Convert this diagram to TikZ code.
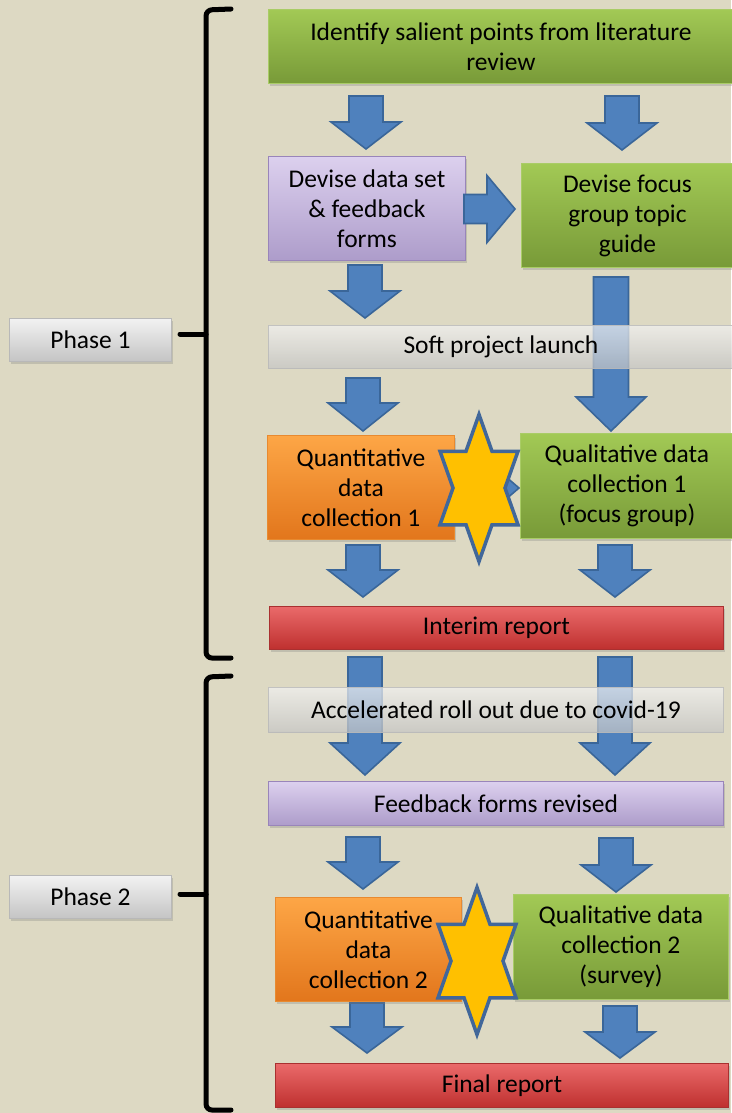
\documentclass[tikz,border=0pt]{standalone}
\usepackage{fontspec}
\setmainfont{Carlito}
\usetikzlibrary{calc,shadows}
\definecolor{bgc}{HTML}{DDD9C3}
\definecolor{grTop}{HTML}{A2C955}
\definecolor{grMid}{HTML}{8DB244}
\definecolor{grBot}{HTML}{789A38}
\definecolor{grLine}{HTML}{A9CC66}
\definecolor{puTop}{HTML}{DCD0EE}
\definecolor{puMid}{HTML}{BDADD8}
\definecolor{puBot}{HTML}{AD9CCA}
\definecolor{puLine}{HTML}{9985BA}
\definecolor{orTop}{HTML}{FDA646}
\definecolor{orMid}{HTML}{F7902E}
\definecolor{orBot}{HTML}{E2761C}
\definecolor{orLine}{HTML}{E88A30}
\definecolor{rdTop}{HTML}{EA6A6A}
\definecolor{rdMid}{HTML}{D64141}
\definecolor{rdBot}{HTML}{BF302F}
\definecolor{rdLine}{HTML}{A93030}
\definecolor{gyTop}{HTML}{F2F2F2}
\definecolor{gyMid}{HTML}{D6D6D6}
\definecolor{gyBot}{HTML}{C4C4C4}
\definecolor{gyLine}{HTML}{B8B8B8}
\definecolor{arFill}{HTML}{4F81BD}
\definecolor{arLine}{HTML}{3A6699}
\definecolor{starFill}{HTML}{FFC000}
\definecolor{starLine}{HTML}{41679A}
\newcommand\blockarrow[5]{% start, tip, shaft half, head half, head length
  \path ($(#2)!#5!(#1)$) coordinate (hb);
  \draw[barrow] ($(#1)!#3!90:(#2)$) -- ($(hb)!#3!90:(#2)$) -- ($(hb)!#4!90:(#2)$)
    -- (#2) -- ($(hb)!#4!-90:(#2)$) -- ($(hb)!#3!-90:(#2)$) -- ($(#1)!#3!-90:(#2)$) -- cycle;}
\newcommand\hexstar[1]{%
  \draw[starsty, shift={(#1)}] (0pt,73.5pt) -- (13pt,36.75pt) -- (39pt,36.75pt) -- (26pt,0pt)
    -- (39pt,-36.75pt) -- (13pt,-36.75pt) -- (0pt,-73.5pt) -- (-13pt,-36.75pt)
    -- (-39pt,-36.75pt) -- (-26pt,0pt) -- (-39pt,36.75pt) -- (-13pt,36.75pt) -- cycle;}
\tikzset{
  box/.style={rectangle, anchor=north west, inner sep=0pt, align=center,
    font=\fontsize{25.5}{30}\selectfont, text=black, line width=0.9pt},
  shad/.style={drop shadow={shadow xshift=2pt, shadow yshift=-3pt, opacity=0.3}},
  greenbox/.style={box, shad, top color=grTop, middle color=grMid, bottom color=grBot, draw=grLine},
  purplebox/.style={box, shad, top color=puTop, middle color=puMid, bottom color=puBot, draw=puLine},
  orangebox/.style={box, shad, top color=orTop, middle color=orMid, bottom color=orBot, draw=orLine},
  redbox/.style={box, shad, top color=rdTop, middle color=rdMid, bottom color=rdBot, draw=rdLine},
  graybox/.style={box, top color=gyTop, middle color=gyMid, bottom color=gyBot, draw=gyLine, fill opacity=0.72, draw opacity=0.8, text opacity=1},
  phasebox/.style={box, shad, top color=gyTop, middle color=gyMid, bottom color=gyBot, draw=gyLine},
  barrow/.style={fill=arFill, draw=arLine, line width=1.6pt, line join=miter},
  starsty/.style={fill=starFill, draw=starLine, line width=3.5pt, line join=miter},
  brace/.style={line width=5pt, line cap=round, rounded corners=6pt},
}
\begin{document}
\begin{tikzpicture}[x=1pt, y=-1pt]
\useasboundingbox (0,0) rectangle (731,1113);
\fill[bgc] (0,0) rectangle (731,1113);

% arrow end points
\coordinate (a1s) at (366,96);   \coordinate (a1e) at (366,149);
\coordinate (a2s) at (622,96);   \coordinate (a2e) at (622,150);
\coordinate (ahs) at (464,209);  \coordinate (ahe) at (515,209);
\coordinate (a3s) at (365,265);  \coordinate (a3e) at (365,318);
\coordinate (l1s) at (611,277);  \coordinate (l1e) at (611,431);
\coordinate (a4s) at (363,378);  \coordinate (a4e) at (363,431);
\coordinate (hxs) at (455,488);  \coordinate (hxe) at (519,488);
\coordinate (a5s) at (363,545);  \coordinate (a5e) at (363,597);
\coordinate (a6s) at (615,545);  \coordinate (a6e) at (615,597);
\coordinate (l2s) at (365,657);  \coordinate (l2e) at (365,775);
\coordinate (l3s) at (615,657);  \coordinate (l3e) at (615,775);
\coordinate (a7s) at (363,837);  \coordinate (a7e) at (363,889);
\coordinate (a8s) at (616,838);  \coordinate (a8e) at (616,892);
\coordinate (a9s) at (367,1003); \coordinate (a9e) at (367,1053);
\coordinate (a10s) at (620,1006); \coordinate (a10e) at (620,1058);

\blockarrow{a1s}{a1e}{17pt}{35pt}{27pt}
\blockarrow{a2s}{a2e}{17pt}{35pt}{27pt}
\blockarrow{a3s}{a3e}{17pt}{35pt}{27pt}
\blockarrow{l1s}{l1e}{17.5pt}{35pt}{34pt}
\blockarrow{a4s}{a4e}{17pt}{35pt}{28pt}
\blockarrow{hxs}{hxe}{5pt}{12pt}{14pt}
\blockarrow{a5s}{a5e}{17pt}{35pt}{27pt}
\blockarrow{a6s}{a6e}{17pt}{35pt}{27pt}
\blockarrow{l2s}{l2e}{17pt}{35pt}{32pt}
\blockarrow{l3s}{l3e}{17pt}{35pt}{32pt}
\blockarrow{a7s}{a7e}{17pt}{35pt}{27pt}
\blockarrow{a8s}{a8e}{17pt}{35pt}{27pt}
\blockarrow{a9s}{a9e}{17pt}{35pt}{26pt}
\blockarrow{a10s}{a10e}{17pt}{35pt}{26pt}

% boxes
\node[greenbox, minimum width=465pt, minimum height=74pt] (lit) at (268,9) {Identify salient points from literature\\review};
\node[purplebox, minimum width=197pt, minimum height=104pt] (dds) at (268,156) {Devise data set\\\&\ feedback\\forms};
\node[greenbox, minimum width=212pt, minimum height=104pt] (fgt) at (521,163) {Devise focus\\group topic\\guide};
\blockarrow{ahs}{ahe}{14.5pt}{33.5pt}{28pt}
\node[graybox, minimum width=465pt, minimum height=43pt] (spl) at (268,325) {Soft project launch};
\node[orangebox, minimum width=187pt, minimum height=104pt] (qn1) at (267,435) {Quantitative\\data\\collection 1};
\node[greenbox, minimum width=213pt, minimum height=105pt] (ql1) at (520,433) {Qualitative data\\collection 1\\(focus group)};
\node[redbox, minimum width=454pt, minimum height=43pt] (int) at (269,606) {Interim report};
\node[graybox, minimum width=455pt, minimum height=45pt] (acc) at (268,687) {Accelerated roll out due to covid-19};
\node[purplebox, minimum width=455pt, minimum height=44pt] (ffr) at (268,781) {Feedback forms revised};
\node[orangebox, minimum width=186pt, minimum height=104pt] (qn2) at (275,897) {Quantitative\\data\\collection 2};
\node[greenbox, minimum width=215pt, minimum height=105pt] (ql2) at (513,894) {Qualitative data\\collection 2\\(survey)};
\node[redbox, minimum width=453pt, minimum height=44pt] (fin) at (275,1063) {Final report};
\node[phasebox, minimum width=162pt, minimum height=43pt] (ph1) at (9,318) {Phase 1};
\node[phasebox, minimum width=162pt, minimum height=43pt] (ph2) at (9,875) {Phase 2};

% stars
\coordinate (s1) at (479,488);
\coordinate (s2) at (477,961);
\hexstar{s1}
\hexstar{s2}

% braces
\coordinate (b1t) at (231,9);  \coordinate (b1b) at (231,658); \coordinate (b1m) at (180,334);
\coordinate (b2t) at (231,676); \coordinate (b2b) at (231,1110); \coordinate (b2m) at (180,894);
\draw[brace] (b1t) -- (206,10) -- (206,658) -- (b1b);
\draw[brace, rounded corners=0pt] (b1m) -- (206,334);
\draw[brace] (b2t) -- (206,677) -- (206,1110) -- (b2b);
\draw[brace, rounded corners=0pt] (b2m) -- (206,894);
\end{tikzpicture}
\end{document}
